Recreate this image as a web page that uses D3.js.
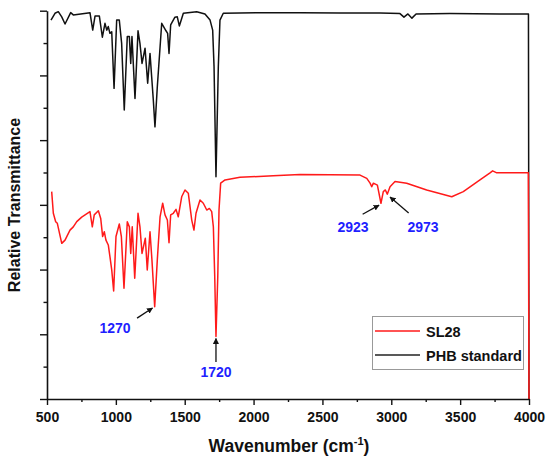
<!DOCTYPE html>
<html>
<head>
<meta charset="utf-8">
<script src="https://cdn.jsdelivr.net/npm/d3@7"></script>
<style>
  html, body { margin: 0; padding: 0; background: #fff; }
  svg { display: block; font-family: "Liberation Sans", Arial, sans-serif; }
</style>
</head>
<body>
<svg id="chart" width="550" height="464"></svg>
<script>
// ---------- data ----------
const xTicks = [500, 1000, 1500, 2000, 2500, 3000, 3500, 4000];
const xMinorTicks = [750, 1250, 1750, 2250, 2750, 3250, 3750];
const yTicks = [0, 1, 2, 3, 4, 5, 6, 7, 8, 9, 10, 11, 12];

const seriesNames = ["SL28", "PHB standard"];

// PHB standard (black)
const phbWavenumber = [529, 558, 582, 607, 631, 672, 691, 812, 832, 849, 880, 902, 921, 934, 945, 957, 970, 987,
  1006, 1025, 1042, 1061, 1083, 1098, 1108, 1117, 1139, 1161, 1175, 1190, 1212, 1231, 1248, 1260, 1272, 1284,
  1301, 1333, 1364, 1376, 1386, 1398, 1429, 1446, 1461, 1490, 1587, 1647, 1684, 1703, 1713, 1727, 1744, 1756,
  1780, 2047, 2337, 2628, 2918, 3063, 3092, 3121, 3150, 3180, 3426, 3789, 3996, 4000];
const phbValue = [11.71, 11.92, 11.97, 11.81, 11.59, 11.94, 11.87, 11.94, 11.40, 11.84, 11.84, 11.18, 11.61, 11.40, 11.51, 11.30, 11.35, 9.60,
  11.71, 11.71, 10.99, 8.93, 11.20, 11.20, 10.37, 11.20, 9.29, 11.38, 10.99, 10.37, 10.84, 9.76, 10.68, 9.96, 9.24, 8.41,
  9.65, 11.61, 11.38, 11.30, 10.68, 11.56, 11.80, 11.81, 11.53, 11.92, 11.97, 11.90, 11.71, 11.40, 10.27, 6.87, 10.27, 11.71,
  11.92, 11.94, 11.94, 11.93, 11.93, 11.91, 11.80, 11.90, 11.77, 11.90, 11.91, 11.90, 11.90, 0];

// SL28 (red)
const slWavenumber = [534, 546, 563, 575, 607, 631, 667, 691, 716, 752, 812, 829, 843, 873, 890, 904, 916, 928, 945, 957,
  970, 984, 1001, 1025, 1040, 1059, 1083, 1098, 1108, 1119, 1137, 1161, 1175, 1190, 1214, 1228, 1248, 1262, 1282, 1301,
  1321, 1340, 1357, 1374, 1386, 1398, 1417, 1437, 1453, 1478, 1502, 1526, 1551, 1567, 1582, 1611, 1635, 1660, 1679, 1696,
  1708, 1718, 1727, 1740, 1749, 1761, 1793, 1901, 2143, 2337, 2773, 2822, 2846, 2858, 2870, 2899, 2925, 2942, 2957, 2971,
  2991, 3027, 3112, 3257, 3439, 3523, 3644, 3717, 3736, 3766, 3995, 4000];
const slValue = [6.41, 5.74, 5.48, 5.43, 4.81, 4.91, 5.22, 5.32, 5.48, 5.62, 5.79, 5.32, 5.69, 5.82, 5.58, 5.02, 5.17, 4.91, 4.76, 4.40,
  3.99, 3.34, 5.02, 5.41, 5.02, 3.42, 5.48, 5.32, 4.50, 5.32, 3.73, 5.74, 5.32, 4.50, 4.97, 3.99, 5.17, 4.30, 2.85, 4.30,
  5.63, 6.05, 5.69, 5.53, 4.83, 5.69, 5.74, 5.86, 5.63, 6.25, 6.46, 6.36, 5.53, 5.22, 5.74, 6.15, 6.05, 5.84, 5.89, 5.79,
  5.32, 3.78, 1.93, 3.78, 5.84, 6.67, 6.77, 6.85, 6.90, 6.94, 6.92, 6.82, 6.67, 6.56, 6.67, 6.61, 6.05, 6.41, 6.46, 6.33,
  6.56, 6.72, 6.67, 6.46, 6.25, 6.41, 6.77, 6.99, 7.05, 6.99, 6.99, 0];

// peak annotations (label position and arrow, in data units)
const peakLabels = ["1270", "1720", "2923", "2973"];
const peakLabelWn = [994, 1727, 2722, 3230];
const peakLabelV = [2.04, 0.68, 5.16, 5.16];
const arrowFromWn = [1154, 1727, 2792, 3126];
const arrowFromV = [2.50, 1.14, 5.71, 5.75];
const arrowToWn = [1266, 1727, 2911, 2991];
const arrowToV = [2.81, 1.87, 5.99, 6.24];

// ---------- chart ----------
const svg = d3.select("#chart");
const x = d3.scaleLinear().domain([500, 4000]).range([47, 529]);
const y = d3.scaleLinear().domain([0, 12]).range([399, 10.7]);

const phb = phbWavenumber.map((w, i) => ({ w, v: phbValue[i] }));
const sl = slWavenumber.map((w, i) => ({ w, v: slValue[i] }));
const line = d3.line().x(d => x(d.w)).y(d => y(d.v));

svg.append("path").datum(phb)
  .attr("d", line).attr("fill", "none").attr("stroke", "#111").attr("stroke-width", 1.5)
  .attr("stroke-linejoin", "round");
svg.append("path").datum(sl)
  .attr("d", line).attr("fill", "none").attr("stroke", "#ff1a1a").attr("stroke-width", 1.5)
  .attr("stroke-linejoin", "round");

// axes
const xAxis = svg.append("g").attr("transform", `translate(0,${y(0)})`)
  .call(d3.axisBottom(x).tickValues(xTicks).tickSize(6).tickSizeOuter(0).tickPadding(7).tickFormat(d3.format("d")));
svg.append("g").attr("transform", `translate(0,${y(0)})`)
  .call(d3.axisBottom(x).tickValues(xMinorTicks).tickSize(3).tickSizeOuter(0).tickFormat(""))
  .select(".domain").remove();
xAxis.selectAll("text").attr("font-size", 14).attr("font-weight", "bold")
  .attr("font-family", "'Liberation Sans', Arial, sans-serif").attr("fill", "#111");

const yAxis = svg.append("g").attr("transform", `translate(${x(500)},0)`)
  .call(d3.axisLeft(y).tickValues(yTicks).tickSizeOuter(0).tickFormat(""));
yAxis.selectAll(".tick line").attr("x2", d => d % 2 === 0 ? -7 : -3.5);

svg.selectAll(".domain").attr("stroke", "#111").attr("stroke-width", 1.6);
svg.selectAll(".tick line").attr("stroke", "#111").attr("stroke-width", 1.4);

// axis titles
const xTitle = svg.append("text").attr("x", 289).attr("y", 452).attr("text-anchor", "middle")
  .attr("font-size", 17.5).attr("font-weight", "bold").attr("fill", "#111");
xTitle.append("tspan").text("Wavenumber (cm");
xTitle.append("tspan").text("-1").attr("font-size", 11).attr("dy", -7);
xTitle.append("tspan").text(")").attr("dy", 7);

svg.append("text").attr("transform", "translate(20,205) rotate(-90)").attr("text-anchor", "middle")
  .attr("font-size", 16).attr("font-weight", "bold").attr("fill", "#111")
  .text("Relative Transmittance");

// annotations
const defs = svg.append("defs");
defs.append("marker").attr("id", "arrow").attr("viewBox", "0 0 10 10")
  .attr("refX", 9).attr("refY", 5).attr("markerWidth", 6).attr("markerHeight", 6)
  .attr("markerUnits", "userSpaceOnUse").attr("orient", "auto")
  .append("path").attr("d", "M0,0 L10,5 L0,10 z").attr("fill", "#111");

peakLabels.forEach((t, i) => {
  svg.append("line")
    .attr("x1", x(arrowFromWn[i])).attr("y1", y(arrowFromV[i]))
    .attr("x2", x(arrowToWn[i])).attr("y2", y(arrowToV[i]))
    .attr("stroke", "#111").attr("stroke-width", 1.3).attr("marker-end", "url(#arrow)");
  svg.append("text").attr("x", x(peakLabelWn[i])).attr("y", y(peakLabelV[i]))
    .attr("text-anchor", "middle").attr("font-size", 14).attr("font-weight", "bold")
    .attr("fill", "#1f1fff").text(t);
});

// legend
const lg = svg.append("g");
lg.append("rect").attr("x", 372.5).attr("y", 316.5).attr("width", 151).attr("height", 53)
  .attr("fill", "#fff").attr("stroke", "#999").attr("stroke-width", 1);
const legendColors = ["#ff1a1a", "#222"];
seriesNames.forEach((n, i) => {
  const yy = 331 + i * 24;
  lg.append("line").attr("x1", 375).attr("x2", 420).attr("y1", yy).attr("y2", yy)
    .attr("stroke", legendColors[i]).attr("stroke-width", 1.6);
  lg.append("text").attr("x", 426).attr("y", yy + 5.5).attr("font-size", 14.5).attr("font-weight", "bold")
    .attr("fill", "#111").text(n);
});
</script>
</body>
</html>
